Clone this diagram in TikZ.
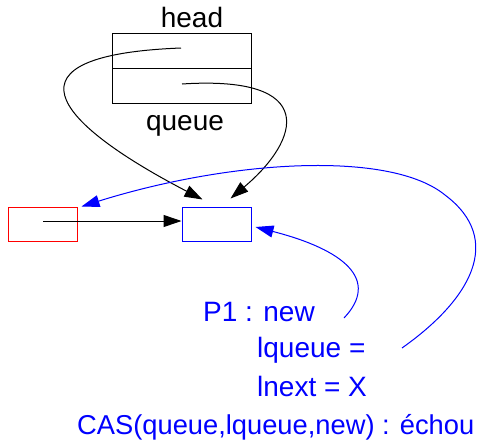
\documentclass[tikz,border=0pt]{standalone}
\usepackage{fontspec}
\setmainfont{Liberation Sans}
\usetikzlibrary{arrows.meta}

\tikzset{
  cellbox/.style={draw, line width=1pt, minimum width=139pt, minimum height=35pt, inner sep=0pt},
  smallbox/.style={draw, line width=1pt, minimum width=69pt, minimum height=34pt, inner sep=0pt},
  ptr/.style={line width=1pt, -{Triangle[length=18pt,width=12pt]}},
  lbl/.style={inner sep=0pt, font=\fontsize{28}{34}\selectfont},
}

\begin{document}
\begin{tikzpicture}[x=1pt, y=-1pt]
  \useasboundingbox (0,0) rectangle (480,442);

  % the head/queue record
  \node[cellbox] (head) at (181.5,50.5) {};
  \node[cellbox] (queue) at (181.5,85.5) {};
  \node[lbl, anchor=base] (headlbl) at (192,27) {head};
  \node[lbl, anchor=base] (queuelbl) at (185,130) {queue};
  \coordinate (hp) at (181,48);
  \coordinate (qp) at (182,84);

  % the two list cells
  \node[smallbox, red] (prev) at (42.5,224) {};
  \node[smallbox, blue] (cell) at (216.5,224) {};
  \coordinate (pp) at (43,221);

  \draw[ptr] (hp) .. controls (0,55) and (50,120) .. ([xshift=-14pt,yshift=7pt]cell.north);
  \draw[ptr] (qp) .. controls (320,75) and (300,140) .. ([xshift=14pt,yshift=8pt]cell.north);
  \draw[ptr] (pp) -- (cell.west |- pp);

  % what P1 does
  \node[lbl, blue, anchor=base west] (p1) at (203,321) {P1 : new};
  \node[lbl, blue, anchor=base west] (lq) at (257,357) {lqueue =};
  \node[lbl, blue, anchor=base west] (ln) at (257,396) {lnext = X};
  \node[lbl, blue, anchor=base west, font=\fontsize{27.3}{33}\selectfont] (cas) at (77,434.5) {CAS(queue,lqueue,new) : échou};
  \coordinate (a1) at (344,318);
  \coordinate (a2) at (402,348);

  \draw[ptr, blue] (a1) .. controls (380,280) and (345,250) .. ([xshift=4pt,yshift=-3pt]cell.east);
  \draw[ptr, blue] (a2) .. controls (470,300) and (505,240) .. (445,195)
    .. controls (390,150) and (230,160) .. ([xshift=4pt]prev.north east);
\end{tikzpicture}
\end{document}
